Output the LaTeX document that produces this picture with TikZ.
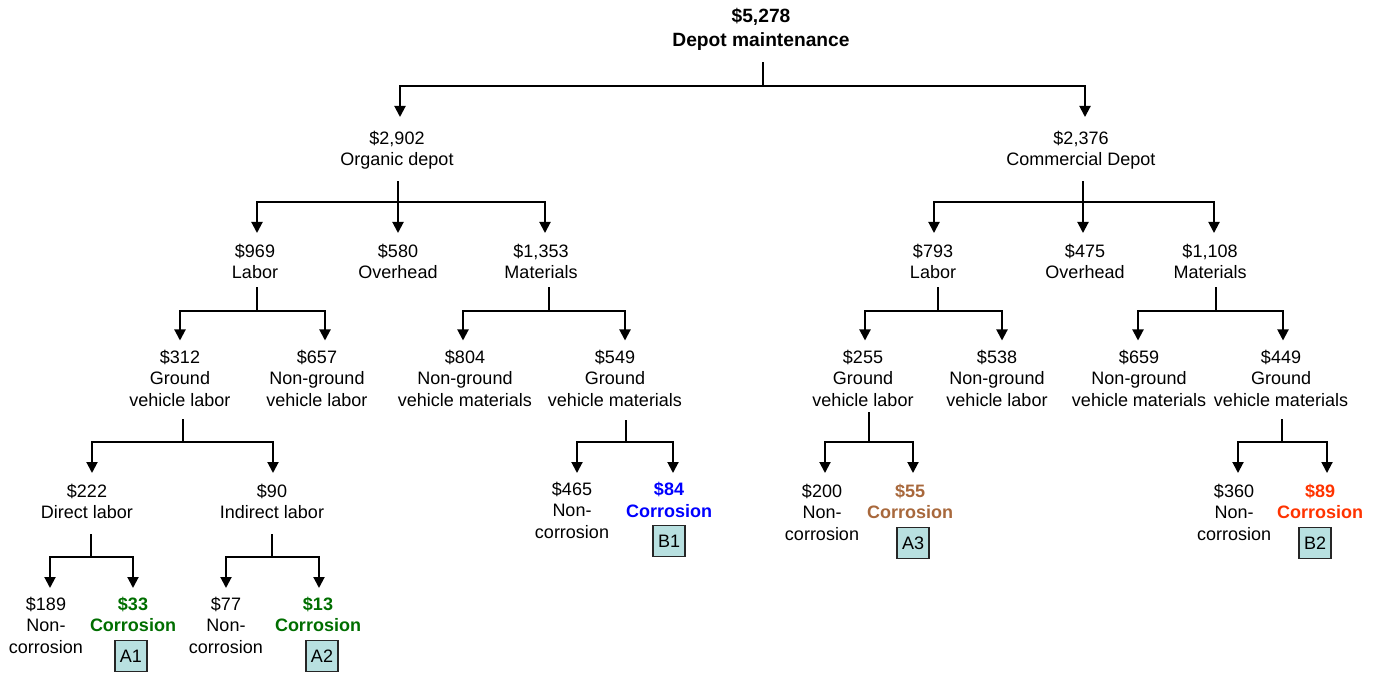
\documentclass[tikz,border=0pt]{standalone}
\usepackage{fontspec}
\setmainfont{Liberation Sans}
\usetikzlibrary{arrows.meta}

\definecolor{corgreen}{RGB}{0,110,0}
\definecolor{corblue}{RGB}{0,0,255}
\definecolor{corbrown}{RGB}{168,104,60}
\definecolor{corred}{RGB}{255,51,0}
\definecolor{tagfill}{RGB}{184,224,224}

% stub from a parent node down to its junction
\newcommand\tstub[3]{\draw[link, shorten <=#3] (#1.south -| #2) -- (#2);}
% elbow arrow from a junction to a child node (gap, horizontal offset)
\newcommand\tbranch[4]{\draw[arrowlink, shorten >=#3] (#1) -| ([xshift=#4]#2.north);}

\begin{document}
\begin{tikzpicture}[x=0.5pt, y=-0.5pt,
  item/.style={align=center, inner sep=0pt, anchor=north,
    font=\fontsize{9}{10.75}\selectfont,
    execute at begin node=\strut, execute at end node=\strut},
  title/.style={item, font=\fontsize{9.6}{12}\selectfont\bfseries},
  corr/.style={item, font=\fontsize{9}{10.75}\selectfont\bfseries},
  tag/.style={draw=black!85, line width=0.75pt, fill=tagfill, inner sep=0pt,
    minimum width=16pt, minimum height=15.5pt,
    font=\fontsize{9}{10.75}\selectfont},
  link/.style={line width=1pt, line cap=rect},
  arrowlink/.style={link, -{Triangle[width=5.5pt,length=5.5pt]}}]

\useasboundingbox (0,0) rectangle (1374,673);

% ---- nodes (positioned by their top edge) ----
\node[title] (root) at (761,8) {\$5,278\\Depot maintenance};

\node[item] (org) at (397,130.5) {\$2,902\\Organic depot};
\node[item] (com) at (1081,130.5) {\$2,376\\Commercial Depot};

\node[item] (lab1) at (255,243.5) {\$969\\Labor};
\node[item] (ovh1) at (398,243.5) {\$580\\Overhead};
\node[item] (mat1) at (541,243.5) {\$1,353\\Materials};
\node[item] (lab2) at (933,243.5) {\$793\\Labor};
\node[item] (ovh2) at (1085,243.5) {\$475\\Overhead};
\node[item] (mat2) at (1210,243.5) {\$1,108\\Materials};

\node[item] (gvl1) at (180,349.5) {\$312\\Ground\\vehicle labor};
\node[item] (ngl1) at (317,349.5) {\$657\\Non-ground\\vehicle labor};
\node[item] (ngm1) at (465,349.5) {\$804\\Non-ground\\vehicle materials};
\node[item] (gvm1) at (615,349.5) {\$549\\Ground\\vehicle materials};
\node[item] (gvl2) at (863,349.5) {\$255\\Ground\\vehicle labor};
\node[item] (ngl2) at (997,349.5) {\$538\\Non-ground\\vehicle labor};
\node[item] (ngm2) at (1139,349.5) {\$659\\Non-ground\\vehicle materials};
\node[item] (gvm2) at (1281,349.5) {\$449\\Ground\\vehicle materials};

\node[item] (dir) at (87,483.5) {\$222\\Direct labor};
\node[item] (ind) at (272,483.5) {\$90\\Indirect labor};

\node[item] (nc1) at (572,481.5) {\$465\\Non-\\corrosion};
\node[corr, text=corblue] (cr1) at (669,482) {\$84\\Corrosion};
\node[item] (nc2) at (822,483.5) {\$200\\Non-\\corrosion};
\node[corr, text=corbrown] (cr2) at (910,483.5) {\$55\\Corrosion};
\node[item] (nc3) at (1234,483.5) {\$360\\Non-\\corrosion};
\node[corr, text=corred] (cr3) at (1320,483.5) {\$89\\Corrosion};

\node[item] (nc4) at (46,596.5) {\$189\\Non-\\corrosion};
\node[corr, text=corgreen] (cr4) at (133,596.5) {\$33\\Corrosion};
\node[item] (nc5) at (226,596.5) {\$77\\Non-\\corrosion};
\node[corr, text=corgreen] (cr5) at (318,596.5) {\$13\\Corrosion};

% ---- category tags ----
\node[tag] (b1) at (669,541) {B1};
\node[tag] (a3) at (913,543) {A3};
\node[tag] (b2) at (1315,543) {B2};
\node[tag] (a1) at (131,656) {A1};
\node[tag] (a2) at (322,656) {A2};

% ---- junctions ----
\coordinate (rootJ) at (763,86);
\coordinate (orgJ) at (398,202);
\coordinate (comJ) at (1083,202);
\coordinate (lab1J) at (257,311);
\coordinate (mat1J) at (549,311);
\coordinate (lab2J) at (938,311);
\coordinate (mat2J) at (1216,311);
\coordinate (gvl1J) at (183,442);
\coordinate (gvm1J) at (626,442);
\coordinate (gvl2J) at (869,442);
\coordinate (gvm2J) at (1282,442);
\coordinate (dirJ) at (91,557);
\coordinate (indJ) at (272,557);

% ---- connectors ----
\tstub{root}{rootJ}{4.5pt}
\tbranch{rootJ}{org}{6.75pt}{1.5pt}
\tbranch{rootJ}{com}{6.75pt}{2pt}

\tstub{org}{orgJ}{4.75pt}
\tbranch{orgJ}{lab1}{5.25pt}{1pt}
\tbranch{orgJ}{ovh1}{5.25pt}{0pt}
\tbranch{orgJ}{mat1}{5.25pt}{2pt}

\tstub{com}{comJ}{4.5pt}
\tbranch{comJ}{lab2}{5.25pt}{0.5pt}
\tbranch{comJ}{ovh2}{5.25pt}{-1pt}
\tbranch{comJ}{mat2}{5.25pt}{2pt}

\tstub{lab1}{lab1J}{1.25pt}
\tbranch{lab1J}{gvl1}{4.5pt}{0pt}
\tbranch{lab1J}{ngl1}{4.5pt}{4pt}

\tstub{mat1}{mat1J}{1pt}
\tbranch{mat1J}{ngm1}{4.5pt}{-1pt}
\tbranch{mat1J}{gvm1}{4.5pt}{5pt}

\tstub{lab2}{lab2J}{1pt}
\tbranch{lab2J}{gvl2}{4.5pt}{1pt}
\tbranch{lab2J}{ngl2}{4.5pt}{2.5pt}

\tstub{mat2}{mat2J}{1pt}
\tbranch{mat2J}{ngm2}{4.5pt}{-0.5pt}
\tbranch{mat2J}{gvm2}{4.5pt}{1pt}

\tstub{gvl1}{gvl1J}{3.5pt}
\tbranch{gvl1J}{dir}{5.25pt}{2.5pt}
\tbranch{gvl1J}{ind}{5.25pt}{0.5pt}

\tstub{gvm1}{gvm1J}{4pt}
\tbranch{gvm1J}{nc1}{4.25pt}{2.5pt}
\tbranch{gvm1J}{cr1}{4.5pt}{2pt}

\tstub{gvl2}{gvl2J}{0pt}
\tbranch{gvl2J}{nc2}{5.25pt}{1.5pt}
\tbranch{gvl2J}{cr2}{5.25pt}{1.5pt}

\tstub{gvm2}{gvm2J}{3.5pt}
\tbranch{gvm2J}{nc3}{5.25pt}{2pt}
\tbranch{gvm2J}{cr3}{5.25pt}{3.5pt}

\tstub{dir}{dirJ}{4.75pt}
\tbranch{dirJ}{nc4}{4.25pt}{2pt}
\tbranch{dirJ}{cr4}{4.25pt}{0pt}

\tstub{ind}{indJ}{4.75pt}
\tbranch{indJ}{nc5}{4.25pt}{0pt}
\tbranch{indJ}{cr5}{4.25pt}{0.5pt}

\end{tikzpicture}
\end{document}
